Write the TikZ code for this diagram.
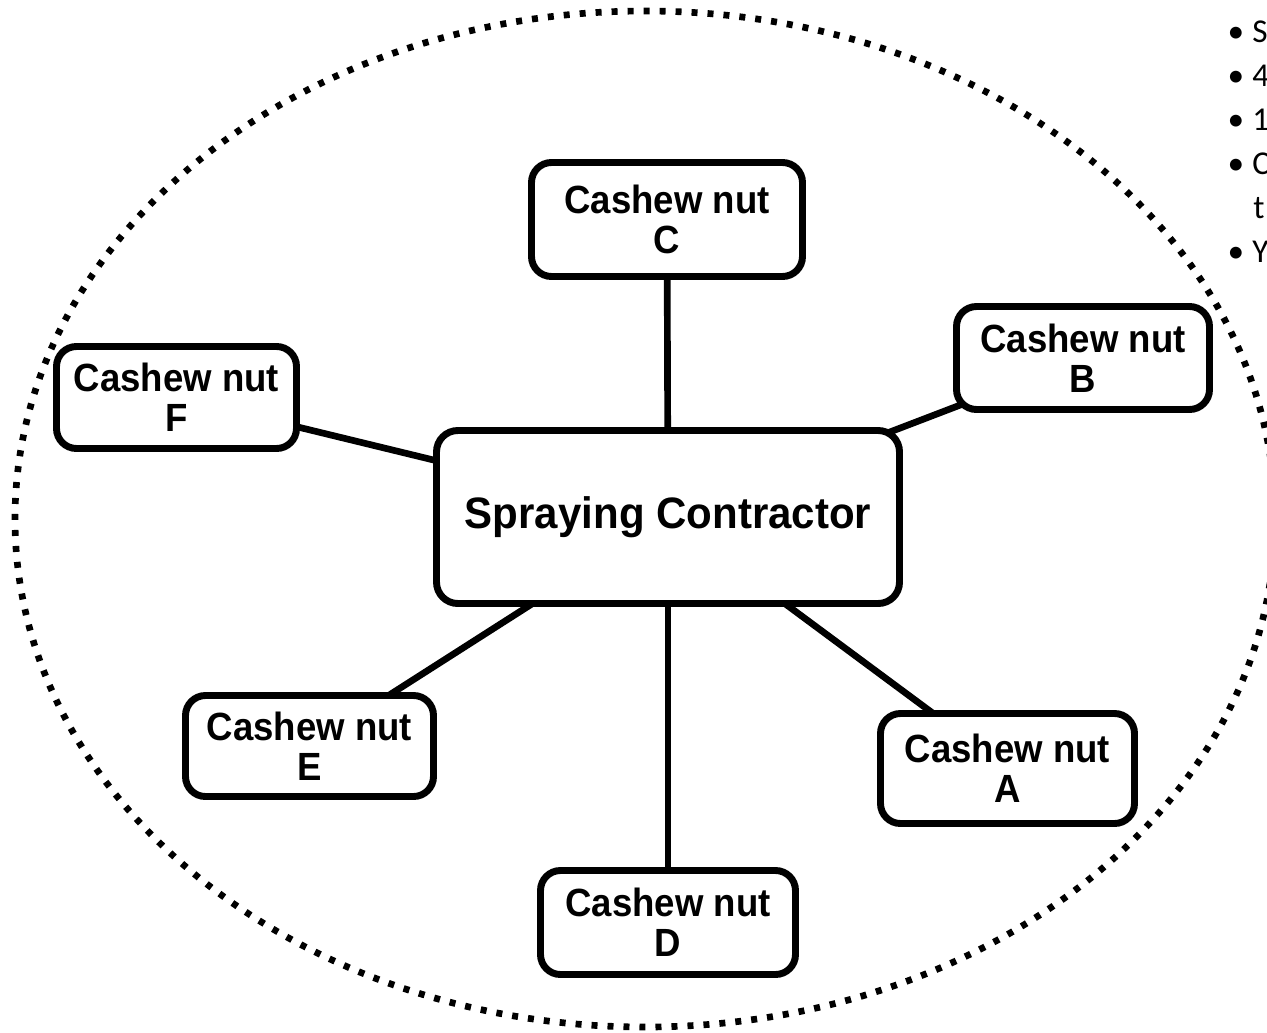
\documentclass[tikz,border=0pt]{standalone}
\usepackage{fontspec}
\usetikzlibrary{backgrounds}
\newfontfamily\boxfont[FakeStretch=0.93]{Liberation Sans}
\newfontfamily\hubfont[FakeStretch=0.955]{Liberation Sans}
\newfontfamily\notefont{Carlito}
\tikzset{
  nutbox/.style={draw, line width=5.2pt, rounded corners=15pt, fill=white,
    inner sep=0pt, align=center,
    font=\boxfont\bfseries\fontsize{29.5}{30}\selectfont},
  hubbox/.style={draw, line width=5.2pt, rounded corners=16pt, fill=white,
    inner sep=0pt, align=center,
    font=\hubfont\bfseries\fontsize{33}{36}\selectfont},
  link/.style={line width=5pt},
  ring/.style={line width=5pt, dash pattern=on 4.5pt off 7.5pt},
  note/.style={inner sep=0pt, font=\notefont\fontsize{25}{30}\selectfont}
}
\begin{document}
\begin{tikzpicture}[x=0.75pt,y=-0.75pt]
\useasboundingbox (0,0) rectangle (1267,1032);
\clip (0,0) rectangle (1267,1032);

% central contractor and the six cashew plots
\node[hubbox, minimum width=463*0.75pt, minimum height=173*0.75pt] (hub) at (668,517) {Spraying Contractor};
\node[nutbox, minimum width=271*0.75pt, minimum height=114*0.75pt] (C) at (667,219.5) {Cashew nut\\C};
\node[nutbox, minimum width=253*0.75pt, minimum height=103*0.75pt] (B) at (1083,358) {Cashew nut\\B};
\node[nutbox, minimum width=240*0.75pt, minimum height=102*0.75pt] (F) at (176.5,397.5) {Cashew nut\\F};
\node[nutbox, minimum width=248*0.75pt, minimum height=101*0.75pt] (E) at (309.5,746) {Cashew nut\\E};
\node[nutbox, minimum width=254*0.75pt, minimum height=110*0.75pt] (A) at (1007.5,768.5) {Cashew nut\\A};
\node[nutbox, minimum width=255*0.75pt, minimum height=104*0.75pt] (D) at (668,922.5) {Cashew nut\\D};

% bullet list running off the right edge
\foreach \i/\y/\t in {1/42/S, 2/86/4, 3/130/1, 4/174/C, 6/262/Y} {
  \node[note, anchor=base] (dot\i) at (1236,\y) {•};
  \node[note, anchor=base west] (txt\i) at (1252,\y) {\t};
}
\node[note, anchor=base west] (txt5) at (1253,218) {t};

% ring and spokes behind the boxes
\begin{scope}[on background layer]
  \clip (0,0) rectangle (1267,1032);
  \draw[ring] (645,519) ellipse [x radius=630, y radius=508];
  \foreach \n in {A,B,C,D,E,F}
    \draw[link] (hub.center) -- (\n.center);
\end{scope}
\end{tikzpicture}
\end{document}
